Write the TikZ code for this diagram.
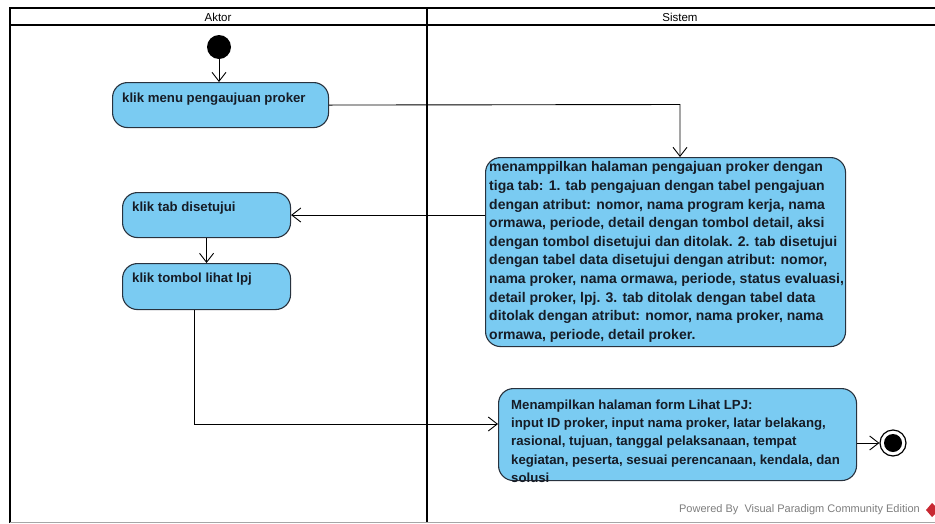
\documentclass[tikz,border=0pt]{standalone}
\usepackage{fontspec}
\setmainfont{Liberation Sans}
\usetikzlibrary{arrows.meta}
\definecolor{actfill}{RGB}{122,203,242}
\definecolor{actline}{RGB}{40,50,62}
\definecolor{acttxt}{RGB}{22,28,38}
\definecolor{wmgray}{RGB}{125,125,125}
\definecolor{vpred}{RGB}{200,40,50}
\begin{document}
\begin{tikzpicture}[x=1pt,y=-1pt,
  lane/.style={line width=2pt, draw=black},
  actbox/.style={draw=actline, fill=actfill, line width=1.1pt, rounded corners=15pt,
                 inner sep=0pt, anchor=north west, rectangle},
  acttext/.style={anchor=north west, inner sep=0pt, align=left, text=acttxt,
                  font=\bfseries\fontsize{13.2}{18.3}\selectfont},
  flow/.style={line width=0.9pt, draw=black,
               -{Straight Barb[length=9pt,width=14pt,line width=0.9pt]}},
  lanelabel/.style={font=\fontsize{11.5}{13}\selectfont, inner sep=0pt}
]
\useasboundingbox (0,0) rectangle (935,523);

% swimlane frame
\draw[lane] (9,8) -- (935,8);
\draw[lane] (9,25) -- (935,25);
\draw[lane] (10,8) -- (10,523);
\draw[lane] (427,8) -- (427,523);
\draw[line width=1pt, draw=black!35] (10,522) -- (935,522);
\node[lanelabel] (lAktor) at (218,17) {Aktor};
\node[lanelabel] (lSistem) at (680,17) {Sistem};

% initial and final nodes
\node[circle, fill=black, minimum size=24pt, inner sep=0pt] (init) at (219,47) {};
\node[circle, draw=black, fill=white, line width=1.2pt, minimum size=26pt, inner sep=0pt] (fin) at (893,443) {};
\node[circle, fill=black, minimum size=18pt, inner sep=0pt] (finc) at (fin.center) {};

% activities
\node[actbox, minimum width=216pt, minimum height=45pt] (a1) at (112,82) {};
\node[acttext] (a1t) at (122,92.5) {klik menu pengaujuan proker};

\node[actbox, minimum width=360pt, minimum height=189pt] (a2) at (485,157) {};
\node[acttext, font=\bfseries\fontsize{14}{18.6}\selectfont] (a2t) at (489,161.5) {%
menamppilkan halaman pengajuan proker dengan\\
tiga tab: 1. tab pengajuan dengan tabel pengajuan\\
dengan atribut: nomor, nama program kerja, nama\\
ormawa, periode, detail dengan tombol detail, aksi\\
dengan tombol disetujui dan ditolak. 2. tab disetujui\\
dengan tabel data disetujui dengan atribut: nomor,\\
nama proker, nama ormawa, periode, status evaluasi,\\
detail proker, lpj. 3. tab ditolak dengan tabel data\\
ditolak dengan atribut: nomor, nama proker, nama\\
ormawa, periode, detail proker.};

\node[actbox, minimum width=168pt, minimum height=45pt] (a3) at (122,192) {};
\node[acttext] (a3t) at (132,202) {klik tab disetujui};

\node[actbox, minimum width=168pt, minimum height=46pt] (a4) at (122,263) {};
\node[acttext] (a4t) at (132,273) {klik tombol lihat lpj};

\node[actbox, minimum width=358pt, minimum height=92pt] (a5) at (498,388) {};
\node[acttext] (a5t) at (511,399.5) {%
Menampilkan halaman form Lihat LPJ:\\
input ID proker, input nama proker, latar belakang,\\
rasional, tujuan, tanggal pelaksanaan, tempat\\
kegiatan, peserta, sesuai perencanaan, kendala, dan\\
solusi};

% control flows
\coordinate (k1) at (680,104.5);
\coordinate (k2) at (194,424);
\draw[flow] (init.south) -- (init.south |- a1.north);
\draw[flow] (a1.east) -- (k1) -- (k1 |- a2.north);
\draw[flow] (a2.west |- a3.east) -- (a3.east);
\draw[flow] (a3.south) -- (a4.north);
\draw[flow] (a4.south -| k2) -- (k2) -- (a5.west |- k2);
\draw[flow] (a5.east |- fin) -- (fin.west);

% footer
\node[anchor=east, inner sep=0pt, text=wmgray, font=\fontsize{11}{13}\selectfont] (wm) at (920,510)
  {Powered By \ Visual Paradigm Community Edition};
\fill[vpred] (926,510) -- (932,503) -- (935,506) -- (935,514) -- (932,517) -- cycle;
\end{tikzpicture}
\end{document}
